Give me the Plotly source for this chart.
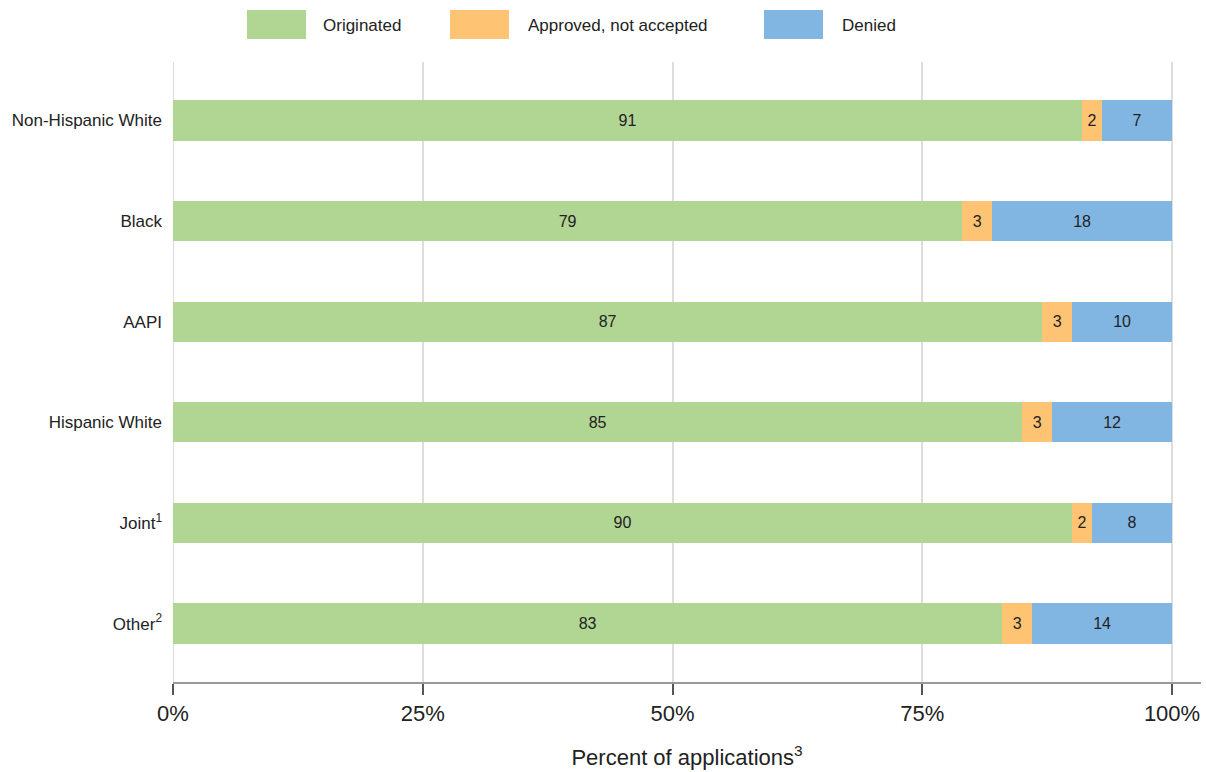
import plotly.graph_objects as go

# Application outcomes by race/ethnicity (percent of applications)
groups = ["Non-Hispanic White", "Black", "AAPI", "Hispanic White",
          "Joint<sup>1</sup>", "Other<sup>2</sup>"]
originated = [91, 79, 87, 85, 90, 83]
approved_not_accepted = [2, 3, 3, 3, 2, 3]
denied = [7, 18, 10, 12, 8, 14]

series_names = ["Originated", "Approved, not accepted", "Denied"]
series_values = [originated, approved_not_accepted, denied]
series_colors = ["#b1d593", "#fec473", "#82b6e2"]

tick_vals = [0, 25, 50, 75, 100]
tick_text = ["0%", "25%", "50%", "75%", "100%"]

FONT = "Liberation Sans, Arial, sans-serif"
TEXT = "#222222"

fig = go.Figure()

# Gridline at 0%, kept visible at the left edge of the plot
fig.add_shape(type="line", xref="x", yref="paper", x0=0, x1=0, y0=0, y1=1,
              line=dict(color="#dddddd", width=2), layer="below")

for name, vals, color in zip(series_names, series_values, series_colors):
    fig.add_trace(go.Bar(
        y=groups, x=vals, name=name, orientation="h",
        marker=dict(color=color, line=dict(width=0)),
        width=0.4,
        text=[str(v) for v in vals],
        textposition="inside",
        insidetextanchor="middle",
        textfont=dict(family=FONT, size=16, color=TEXT),
        constraintext="none",
        showlegend=False,
        hoverinfo="x+y+name",
    ))

# Legend drawn as wide swatches across the top
legend_x = [247, 450, 764]
text_gap = [15, 17, 17]
swatch_w = 59
W, H = 1206, 772
for name, color, x0, gap in zip(series_names, series_colors, legend_x, text_gap):
    fig.add_shape(type="rect", xref="paper", yref="paper",
                  x0=(x0 - 173) / 1028, x1=(x0 + swatch_w - 173) / 1028,
                  y0=(682 - 39) / 620, y1=(682 - 10) / 620,
                  fillcolor=color, line=dict(width=0))
    fig.add_annotation(xref="paper", yref="paper",
                       x=(x0 + swatch_w + gap - 173) / 1028, y=(682 - 25) / 620,
                       text=name, showarrow=False, xanchor="left", yanchor="middle",
                       font=dict(family=FONT, size=17, color=TEXT))

fig.update_layout(
    width=W, height=H,
    margin=dict(l=173, r=5, t=62, b=90),
    paper_bgcolor="white", plot_bgcolor="white",
    barmode="stack",
    bargap=0.6,
    uniformtext=dict(minsize=16, mode="show"),
    font=dict(family=FONT, color=TEXT),
    xaxis=dict(
        range=[0, 102.9],
        tickvals=tick_vals, ticktext=tick_text,
        tickfont=dict(family=FONT, size=22, color=TEXT),
        showgrid=True, gridcolor="#dddddd", gridwidth=2,
        zeroline=False,
        showline=True, linecolor="#999999", linewidth=2,
        ticks="outside", ticklen=11, tickwidth=2, tickcolor="#555555",
        title=dict(text="Percent of applications<sup>3</sup>",
                   font=dict(family=FONT, size=22, color=TEXT), standoff=24),
        fixedrange=True,
    ),
    yaxis=dict(
        categoryorder="array", categoryarray=groups,
        range=[5.58, -0.58],
        tickfont=dict(family=FONT, size=17, color=TEXT),
        showgrid=False, zeroline=False, showline=False,
        ticks="", ticklabelstandoff=10,
        fixedrange=True,
    ),
)

fig.write_html("out.html")
